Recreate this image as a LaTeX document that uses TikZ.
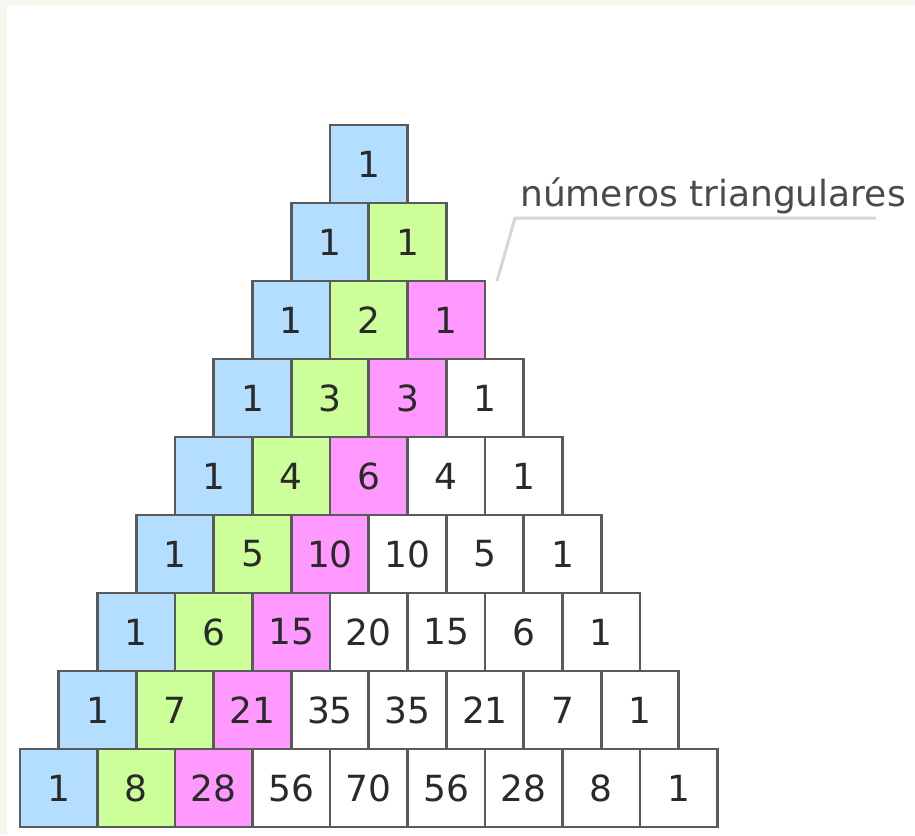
\documentclass[tikz,border=0pt]{standalone}
\usepackage{fontspec}
\setmainfont{DejaVu Sans}
\definecolor{cblue}{HTML}{B4DEFF}
\definecolor{cgreen}{HTML}{CCFF99}
\definecolor{cpink}{HTML}{FF99FF}
\definecolor{cborder}{HTML}{5A5A5A}
\definecolor{frame}{HTML}{F7F7EF}
\definecolor{leadc}{HTML}{D6D6D6}
\definecolor{txt}{HTML}{2A2A2A}
\begin{document}
\begin{tikzpicture}[x=1pt,y=-1pt,
  cell/.style={draw=cborder, line width=2.6pt, minimum width=77.5pt, minimum height=78pt,
    inner sep=0pt, anchor=center, text=txt, font=\fontsize{36}{36}\selectfont},
  lbl/.style={text=txt!85!white, font=\fontsize{36}{36}\selectfont, inner sep=0pt},
  leader/.style={draw=leadc, line width=3pt}]
\fill[frame] (0,0) rectangle (915,835);
\fill[white] (7,5) rectangle (915,835);
\useasboundingbox (0,0) rectangle (915,835);
\foreach \i/\vals in {0/{1},1/{1,1},2/{1,2,1},3/{1,3,3,1},4/{1,4,6,4,1},5/{1,5,10,10,5,1},6/{1,6,15,20,15,6,1},7/{1,7,21,35,35,21,7,1},8/{1,8,28,56,70,56,28,8,1}}{
  \foreach \v [count=\jj from 0] in \vals {
    \ifcase\jj \def\fc{cblue}\or \def\fc{cgreen}\or \def\fc{cpink}\else \def\fc{white}\fi
    \node[cell, fill=\fc] (c-\i-\jj) at ({330-38.75*\i+77.5*\jj+38.75},{125+78*\i+39}) {\v};
  }
}
\node[lbl, anchor=base west] (lab) at (520,206) {números triangulares};
\coordinate (lt) at (497,281);
\coordinate (lk) at (515,218);
\coordinate (lr) at (876,218);
\draw[leader] (lt) -- (lk) -- (lr);
\end{tikzpicture}
\end{document}
